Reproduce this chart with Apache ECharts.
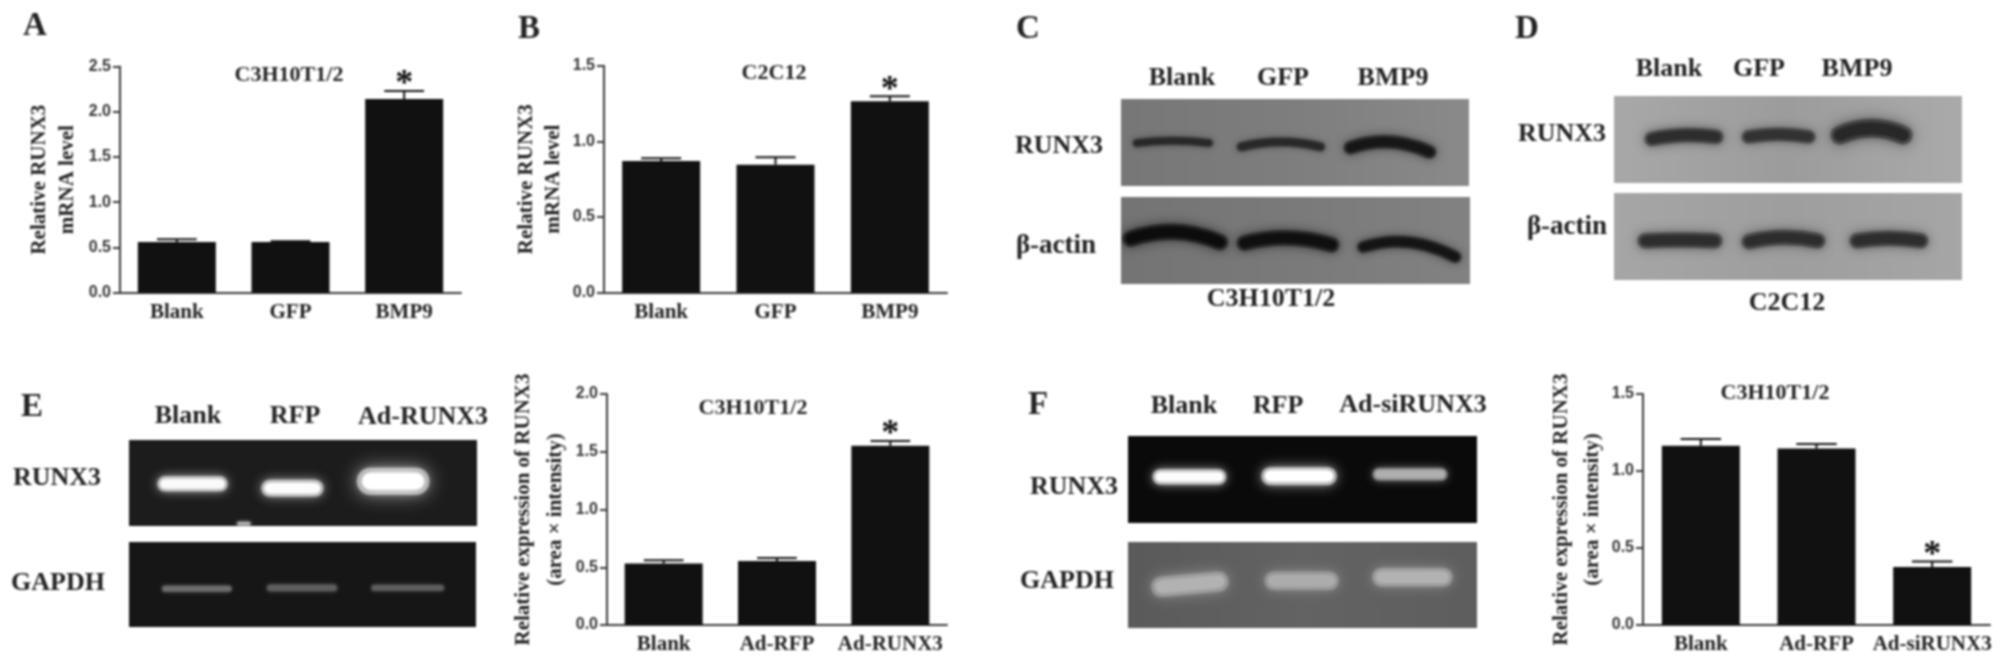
<!DOCTYPE html>
<html>
<head>
<meta charset="utf-8">
<title>RUNX3 figure</title>
<script src="https://cdn.jsdelivr.net/npm/echarts@6/dist/echarts.min.js"></script>
<style>
  html, body { margin: 0; padding: 0; background: #fff; }
  #chart { width: 2008px; height: 666px; filter: blur(0.8px); }
</style>
</head>
<body>
<div id="chart"></div>
<script>
// bar panels, values
const catsBmp = ["Blank", "GFP", "BMP9"];
const catsRunx = ["Blank", "Ad-RFP", "Ad-RUNX3"];
const catsSi = ["Blank", "Ad-RFP", "Ad-siRUNX3"];

const valuesA = [0.56, 0.56, 2.14];
const capsA = [0.59, 0.57, 2.23];
const valuesB = [0.87, 0.846, 1.265];
const capsB = [0.888, 0.895, 1.298];
const valuesE = [0.532, 0.555, 1.552];
const capsE = [0.561, 0.581, 1.593];
const valuesF = [1.164, 1.146, 0.377];
const capsF = [1.207, 1.175, 0.412];

// gel bands in percent of the gel: xStart, xEnd, yStart, yMid, yEnd, thickness, gray level
const bandsCRunx = [
  [3.4, 26.4, 50.6, 48, 50.6, 10, 40],
  [33.3, 58.6, 55, 49.4, 55, 11, 40],
  [64.1, 90.5, 56, 49.4, 61, 16, 22]
];
const bandsCActin = [
  [0.6, 30.5, 48, 40, 52, 19, 12],
  [33.3, 62.4, 53, 47, 55, 18, 15],
  [67.8, 97.4, 57.5, 52, 69, 14, 20]
];
const bandsDRunx = [
  [8.9, 31.3, 49.4, 45, 47, 17, 45],
  [36.8, 57.8, 47, 44, 47, 16, 50],
  [62.4, 85.6, 45, 37, 45, 22, 40]
];
const bandsDActin = [
  [6.9, 31, 55, 54, 55, 18, 45],
  [36.8, 60.6, 56, 51, 55, 18, 45],
  [67.8, 90.2, 55, 52, 55, 18, 45]
];
const bandsERunx = [
  [8.3, 28.2, 51, 51, 51, 18, 250],
  [38.2, 55.7, 56, 56, 56, 20, 252],
  [65.8, 86, 48, 48, 48, 32, 255],
  [31, 35, 97, 97, 97, 4, 190]
];
const bandsEGapdh = [
  [9.5, 29.6, 55, 55, 55, 8, 110],
  [39.7, 60, 54, 54, 54, 9, 95],
  [69.8, 90.8, 54, 54, 54, 8, 95]
];
const bandsFRunx = [
  [7.2, 28, 47, 47, 47, 18, 252],
  [38.4, 59.6, 46, 46, 46, 21, 255],
  [70.2, 91.4, 44, 44, 44, 15, 175]
];
const bandsFGapdh = [
  [6.9, 28.6, 52, 49, 46, 24, 178],
  [39.3, 60.2, 45, 45, 45, 22, 172],
  [70.2, 92.8, 41, 41, 41, 22, 178]
];

const SERIF = "Liberation Serif";
const SANS = "Liberation Sans";
const INK = "#222";

let grids = [], xAxes = [], yAxes = [], series = [], texts = [];

function txt(text, x, y, size) {
  texts.push({
    type: "text", x: x, y: y,
    style: {
      text: text, fill: INK,
      font: "bold " + size + "px '" + SERIF + "'",
      align: "center", verticalAlign: "middle"
    }
  });
}

function barPanel(box, cats, values, caps, starAt, yMax, yName, lineH, nameGap) {
  const i = grids.length;
  grids.push({ left: box[0], top: box[1], width: box[2], height: box[3] });
  xAxes.push({
    gridIndex: i, type: "category", data: cats,
    axisLine: { lineStyle: { color: "#3a3a3a", width: 2 } },
    axisTick: { alignWithLabel: true, length: 7, lineStyle: { color: "#3a3a3a", width: 2 } },
    axisLabel: {
      interval: 0, margin: 9, color: INK,
      fontFamily: SERIF, fontWeight: "bold", fontSize: 21
    }
  });
  yAxes.push({
    gridIndex: i, type: "value", min: 0, max: yMax, interval: 0.5,
    name: yName, nameLocation: "middle", nameGap: nameGap,
    nameTextStyle: {
      color: INK, fontFamily: SERIF, fontWeight: "bold", fontSize: 21, lineHeight: lineH
    },
    splitLine: { show: false },
    axisLine: { show: true, onZero: false, lineStyle: { color: "#3a3a3a", width: 2 } },
    axisTick: { show: true, length: 7, lineStyle: { color: "#3a3a3a", width: 2 } },
    axisLabel: {
      margin: 9, color: "#333", fontFamily: SANS, fontWeight: "bold", fontSize: 16,
      formatter: (v) => v.toFixed(1)
    }
  });
  series.push({
    type: "bar", xAxisIndex: i, yAxisIndex: i, data: values, barWidth: 78,
    itemStyle: { color: "#111" }, animation: false, silent: true
  });
  series.push({
    type: "custom", xAxisIndex: i, yAxisIndex: i, animation: false, silent: true,
    data: cats.map((c, k) => [k, values[k], caps[k], k === starAt ? 1 : 0]),
    renderItem: renderErrorBar, z: 3
  });
}

function renderErrorBar(params, api) {
  const low = api.coord([api.value(0), api.value(1)]);
  const high = api.coord([api.value(0), api.value(2)]);
  const half = api.size([1, 0])[0] * 0.175;
  const line = { stroke: "#111", lineWidth: 2 };
  const children = [
    { type: "line", shape: { x1: low[0], y1: low[1], x2: low[0], y2: high[1] }, style: line },
    { type: "line", shape: { x1: low[0] - half, y1: high[1], x2: low[0] + half, y2: high[1] }, style: line }
  ];
  if (api.value(3)) {
    children.push({
      type: "text", x: low[0], y: high[1] - 6,
      style: {
        text: "*", fill: "#111", font: "bold 36px '" + SERIF + "'",
        align: "center", verticalAlign: "middle"
      }
    });
  }
  return { type: "group", children: children };
}

function gel(box, color, bands) {
  const i = grids.length;
  grids.push({
    show: true, left: box[0], top: box[1], width: box[2], height: box[3],
    backgroundColor: color, borderWidth: 0
  });
  xAxes.push({ gridIndex: i, type: "value", min: 0, max: 100, show: false });
  yAxes.push({ gridIndex: i, type: "value", min: 0, max: 100, inverse: true, show: false });
  series.push({
    type: "custom", xAxisIndex: i, yAxisIndex: i, data: bands, clip: true,
    animation: false, silent: true, encode: { x: [0, 1], y: [2, 3, 4] },
    renderItem: renderBand
  });
}

// a band is a soft wide stroke with a tighter core on top
function renderBand(params, api) {
  const a = api.coord([api.value(0), api.value(2)]);
  const m = api.coord([(api.value(0) + api.value(1)) / 2, api.value(3)]);
  const b = api.coord([api.value(1), api.value(4)]);
  const w = api.size([0, api.value(5)])[1];
  const g = api.value(6);
  const c = "rgb(" + g + "," + g + "," + g + ")";
  const shape = {
    x1: a[0] + w * 0.45, y1: a[1], x2: b[0] - w * 0.45, y2: b[1],
    cpx1: m[0], cpy1: 2 * m[1] - (a[1] + b[1]) / 2
  };
  return {
    type: "group",
    children: [
      {
        type: "bezierCurve", shape: shape,
        style: {
          fill: "none", stroke: c, opacity: 0.5, lineWidth: w, lineCap: "round",
          shadowBlur: Math.max(4, w * 0.7), shadowColor: c
        }
      },
      {
        type: "bezierCurve", shape: shape,
        style: {
          fill: "none", stroke: c, lineWidth: w * 0.6, lineCap: "round",
          shadowBlur: Math.max(3, w * 0.4), shadowColor: c
        }
      }
    ]
  };
}

function shade(left, mid, right) {
  return {
    type: "linear", x: 0, y: 0, x2: 1, y2: 0,
    colorStops: [
      { offset: 0, color: left },
      { offset: 0.5, color: mid },
      { offset: 1, color: right }
    ]
  };
}

// A, B, E, F bar charts
barPanel([120, 66.5, 341, 226.2], catsBmp, valuesA, capsA, 2, 2.5, "Relative RUNX3\nmRNA level", 28, 38);
barPanel([604, 65.7, 343, 227], catsBmp, valuesB, capsB, 2, 1.5, "Relative RUNX3\nmRNA level", 27, 37);
barPanel([607, 394, 340, 231], catsRunx, valuesE, capsE, 2, 2.0, "Relative expression of RUNX3\n(area \u00d7 intensity)", 32, 31);
barPanel([1643, 394, 347, 231], catsSi, valuesF, capsF, 2, 1.5, "Relative expression of RUNX3\n(area \u00d7 intensity)", 31, 23);

// gels
gel([1121, 99, 348, 87], shade("#777", "#7e7e7e", "#8a8a8a"), bandsCRunx);
gel([1121, 197, 349, 87], shade("#747474", "#7a7a7a", "#828282"), bandsCActin);
gel([1614, 96, 348, 87], shade("#a8a8a8", "#9c9c9c", "#aaa"), bandsDRunx);
gel([1614, 193, 348, 87], shade("#a6a6a6", "#9e9e9e", "#a6a6a6"), bandsDActin);
gel([129, 440, 348, 86], "#1c1c1c", bandsERunx);
gel([129, 542, 347, 85], "#161616", bandsEGapdh);
gel([1128, 436, 349, 87], "#0a0a0a", bandsFRunx);
gel([1128, 542, 349, 86], shade("#5a5a5a", "#636363", "#5e5e5e"), bandsFGapdh);

// panel letters
txt("A", 35, 26, 33);
txt("B", 529, 29, 33);
txt("C", 1028, 29, 33);
txt("D", 1527, 29, 33);
txt("E", 32, 407, 33);
txt("F", 1038, 405, 33);

// chart titles
txt("C3H10T1/2", 289, 75, 22);
txt("C2C12", 774, 73, 22);
txt("C3H10T1/2", 753, 408, 22);
txt("C3H10T1/2", 1775, 393, 22);

// C labels
txt("Blank", 1182, 78, 26);
txt("GFP", 1283, 78, 26);
txt("BMP9", 1393, 78, 26);
txt("RUNX3", 1059, 146, 26);
txt("\u03b2-actin", 1056, 246, 27);
txt("C3H10T1/2", 1271, 299, 26);

// D labels
txt("Blank", 1669, 69, 26);
txt("GFP", 1759, 69, 26);
txt("BMP9", 1857, 69, 26);
txt("RUNX3", 1562, 134, 26);
txt("\u03b2-actin", 1567, 227, 27);
txt("C2C12", 1787, 303, 26);

// E labels
txt("Blank", 188, 416, 26);
txt("RFP", 295, 416, 26);
txt("Ad-RUNX3", 423, 417, 26);
txt("RUNX3", 57, 478, 26);
txt("GAPDH", 58, 583, 26);

// F labels
txt("Blank", 1184, 406, 26);
txt("RFP", 1278, 406, 26);
txt("Ad-siRUNX3", 1413, 405, 26);
txt("RUNX3", 1074, 487, 26);
txt("GAPDH", 1067, 581, 26);

const chart = echarts.init(document.getElementById("chart"));
chart.setOption({
  backgroundColor: "#fff",
  animation: false,
  grid: grids,
  xAxis: xAxes,
  yAxis: yAxes,
  series: series,
  graphic: { elements: texts }
});
</script>
</body>
</html>
